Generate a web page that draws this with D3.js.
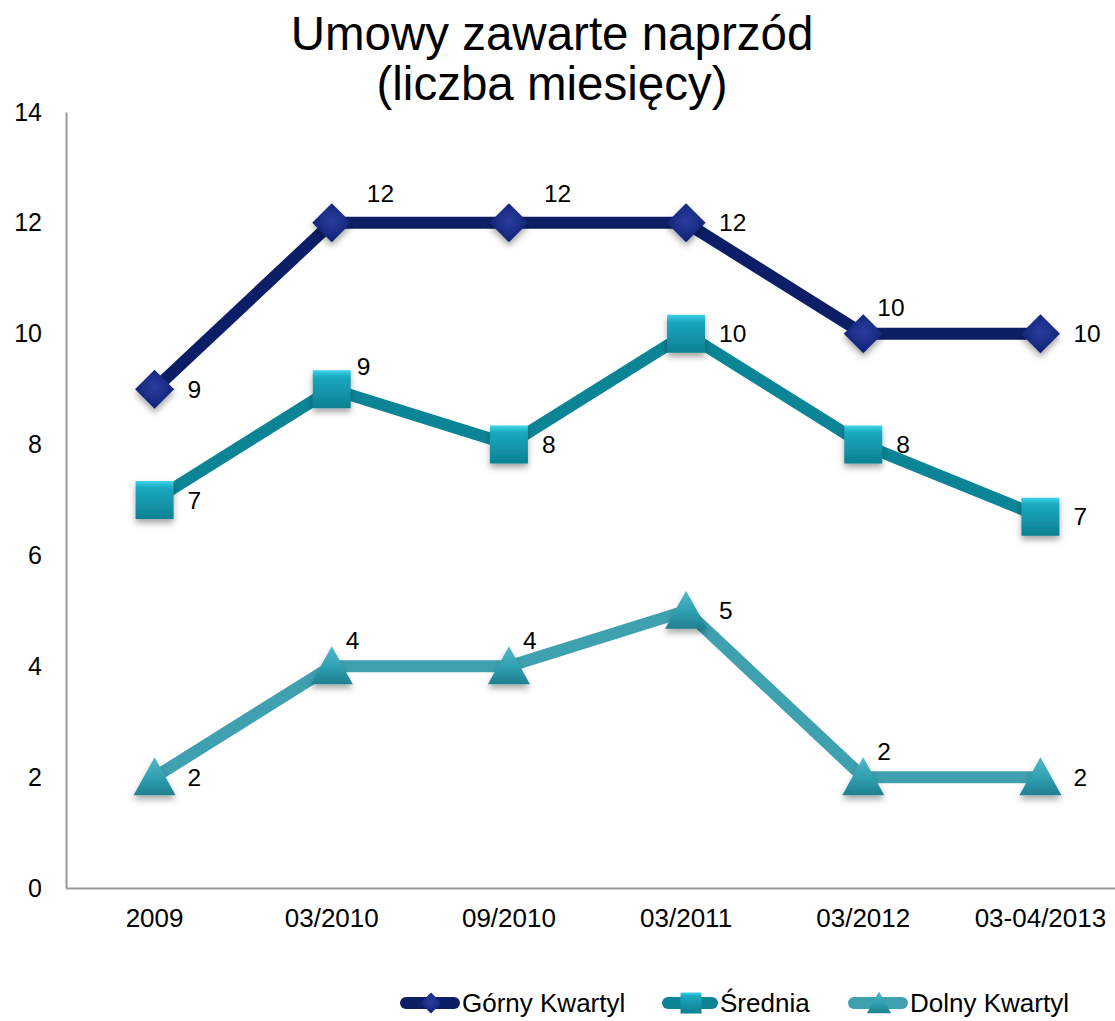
<!DOCTYPE html>
<html lang="pl">
<head>
<meta charset="utf-8">
<title>Umowy zawarte naprzód</title>
<script src="https://cdn.jsdelivr.net/npm/d3@7/dist/d3.min.js"></script>
<style>
  html, body { margin: 0; padding: 0; background: #ffffff; }
  svg { display: block; font-family: "Liberation Sans", Arial, sans-serif; }
</style>
</head>
<body>
<svg id="chart" width="1115" height="1021"></svg>
<script>
// Survey periods and quartile values (months of contracts signed in advance)
const periods = ["2009", "03/2010", "09/2010", "03/2011", "03/2012", "03-04/2013"];
const seriesNames = ["Górny Kwartyl", "Średnia", "Dolny Kwartyl"];
const gornyKwartyl = [9, 12, 12, 12, 10, 10];
const srednia = [7, 9, 8, 10, 8, 6.7];
const dolnyKwartyl = [2, 4, 4, 5, 2, 2];
const yTicks = [0, 2, 4, 6, 8, 10, 12, 14];

// Label nudges relative to each marker: "r" = right, "ar"/"am"/"a" = above, from far right to near
const labelSpots = [
  ["r", "ar", "ar", "r", "a", "r"],
  ["r", "am", "r", "r", "r", "r"],
  ["r", "a", "a", "r", "a", "r"]
];
const spotOffset = {
  r:  { dx: 33, dy: 0 },
  ar: { dx: 35, dy: -29 },
  am: { dx: 25, dy: -23 },
  a:  { dx: 14, dy: -26 }
};

const svg = d3.select("#chart");
const plot = { left: 66, right: 1129, top: 112, bottom: 888 };

const x = d3.scaleBand().domain(periods).range([plot.left, plot.right]);
const y = d3.scaleLinear().domain([0, 14]).range([plot.bottom, plot.top]);
const cx = p => x(p) + x.bandwidth() / 2;

// ---- gradients & shadow ----
const defs = svg.append("defs");
const shadow = defs.append("filter").attr("id", "markShadow")
  .attr("x", "-50%").attr("y", "-50%").attr("width", "200%").attr("height", "200%");
shadow.append("feDropShadow").attr("dx", 0).attr("dy", 4).attr("stdDeviation", 3)
  .attr("flood-color", "#000").attr("flood-opacity", 0.35);

function linGrad(id, stops) {
  const g = defs.append("linearGradient").attr("id", id)
    .attr("x1", 0).attr("y1", 0).attr("x2", 0).attr("y2", 1);
  stops.forEach(([o, c]) => g.append("stop").attr("offset", o).attr("stop-color", c));
}
function radGrad(id, stops) {
  const g = defs.append("radialGradient").attr("id", id)
    .attr("cx", "50%").attr("cy", "45%").attr("r", "60%");
  stops.forEach(([o, c]) => g.append("stop").attr("offset", o).attr("stop-color", c));
}
radGrad("gDiamond", [["0%", "#2b3d9e"], ["70%", "#15287e"], ["100%", "#0b185c"]]);
linGrad("gSquare", [["0%", "#3fd4ea"], ["18%", "#1aa9c0"], ["60%", "#1593a8"], ["100%", "#0c7f92"]]);
linGrad("gTriangle", [["0%", "#55b8c8"], ["55%", "#2e9fb0"], ["100%", "#207f8f"]]);

const series = [
  { name: seriesNames[0], values: gornyKwartyl, line: "#0c1f66", fill: "url(#gDiamond)", shape: "diamond" },
  { name: seriesNames[1], values: srednia, line: "#0b8595", fill: "url(#gSquare)", shape: "square" },
  { name: seriesNames[2], values: dolnyKwartyl, line: "#3fa0b0", fill: "url(#gTriangle)", shape: "triangle" }
];

function markerPath(shape, s) {
  const h = s / 2;
  if (shape === "diamond") return `M0,${-h}L${h},0L0,${h}L${-h},0Z`;
  if (shape === "square") return `M${-h},${-h}H${h}V${h}H${-h}Z`;
  return `M0,${-h}L${h * 1.05},${h * 0.9}H${-h * 1.05}Z`;
}

// ---- title ----
const title = svg.append("text").attr("x", 552).attr("text-anchor", "middle")
  .attr("font-size", 47.5).attr("fill", "#000");
title.append("tspan").attr("x", 552).attr("y", 50).text("Umowy zawarte naprzód");
title.append("tspan").attr("x", 552).attr("y", 100).text("(liczba miesięcy)");

// ---- axes ----
const yAxis = svg.append("g").attr("transform", `translate(${plot.left},0)`)
  .call(d3.axisLeft(y).tickValues(yTicks).tickSize(0).tickSizeOuter(0).tickPadding(24));
yAxis.select(".domain").attr("stroke", "#999").attr("stroke-width", 2);
yAxis.selectAll("text").attr("font-size", 25).attr("fill", "#000")
  .attr("font-family", "Liberation Sans, Arial, sans-serif");

const xAxis = svg.append("g").attr("transform", `translate(0,${plot.bottom})`)
  .call(d3.axisBottom(x).tickSize(0).tickSizeOuter(0).tickPadding(21));
xAxis.select(".domain").attr("stroke", "#999").attr("stroke-width", 2);
xAxis.selectAll("text").attr("font-size", 26).attr("fill", "#000")
  .attr("font-family", "Liberation Sans, Arial, sans-serif");

// ---- lines, markers, labels ----
const line = d3.line().x((d, i) => cx(periods[i])).y(d => y(d));
const fmt = d3.format(".0f");

series.forEach((s, si) => {
  const g = svg.append("g").attr("class", "series");
  g.append("path").datum(s.values).attr("d", line)
    .attr("fill", "none").attr("stroke", s.line).attr("stroke-width", 12)
    .attr("stroke-linejoin", "round");
  g.selectAll("path.mark").data(s.values).join("path").attr("class", "mark")
    .attr("transform", (d, i) => `translate(${cx(periods[i])},${y(d)})`)
    .attr("d", markerPath(s.shape, s.shape === "diamond" ? 39 : s.shape === "square" ? 38 : 40))
    .attr("fill", s.fill).attr("filter", "url(#markShadow)");
  g.selectAll("text.lbl").data(s.values).join("text").attr("class", "lbl")
    .attr("x", (d, i) => cx(periods[i]) + spotOffset[labelSpots[si][i]].dx)
    .attr("y", (d, i) => y(d) + spotOffset[labelSpots[si][i]].dy)
    .attr("dy", "0.35em").attr("font-size", 24.5).attr("fill", "#000")
    .text(d => fmt(d));
});

// ---- legend ----
const legendItems = [
  { x0: 400, textX: 462 },
  { x0: 662, textX: 720 },
  { x0: 848, textX: 910 }
];
const legY = 1003;
series.forEach((s, i) => {
  const it = legendItems[i];
  const g = svg.append("g");
  g.append("line").attr("x1", it.x0 + 6).attr("x2", it.textX - 8)
    .attr("y1", legY).attr("y2", legY).attr("stroke", s.line)
    .attr("stroke-width", 12).attr("stroke-linecap", "round");
  g.append("path").attr("transform", `translate(${(it.x0 + it.textX) / 2},${legY})`)
    .attr("d", markerPath(s.shape, s.shape === "triangle" ? 23 : 21))
    .attr("fill", s.fill);
  g.append("text").attr("x", it.textX).attr("y", legY).attr("dy", "0.35em")
    .attr("font-size", 26).attr("fill", "#000").text(s.name);
});
</script>
</body>
</html>
